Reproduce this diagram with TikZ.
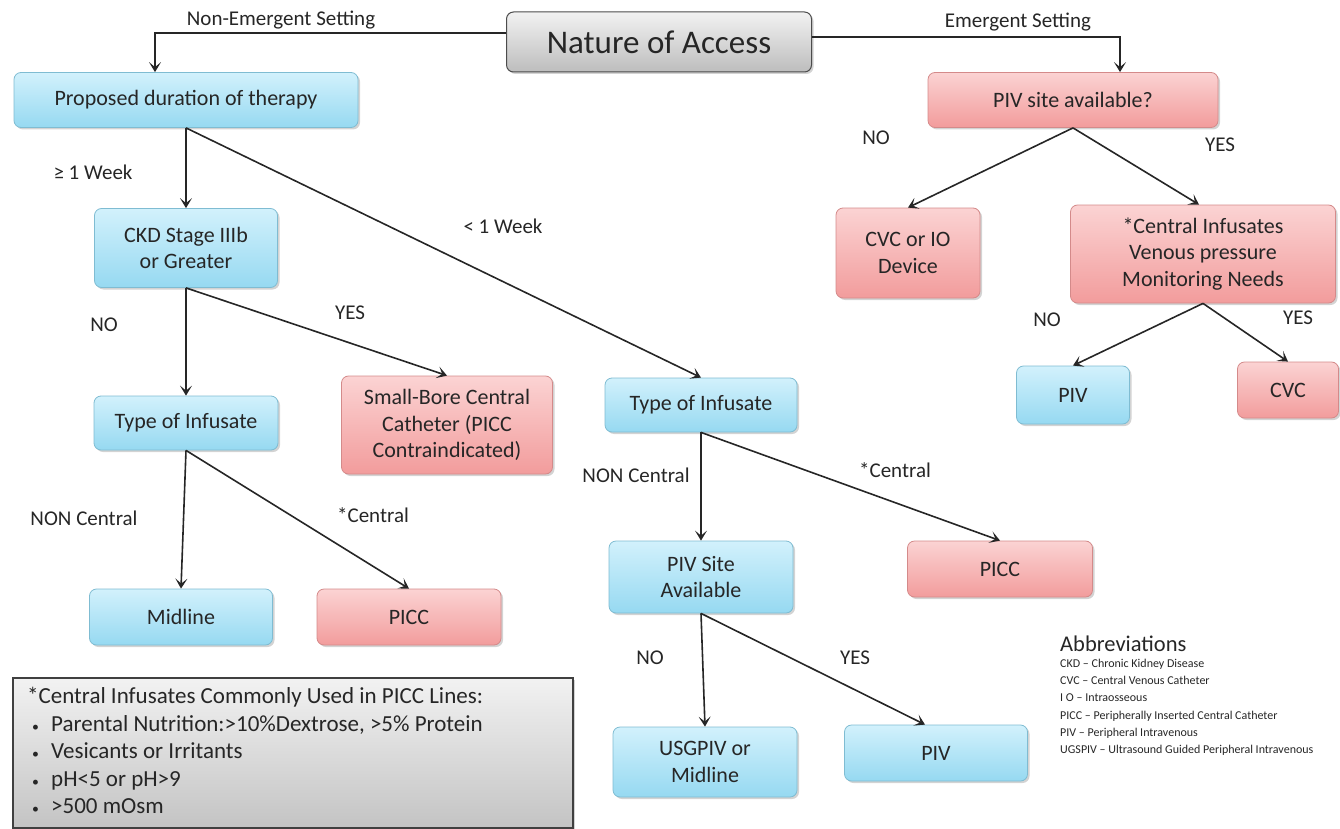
\documentclass[tikz,border=0pt]{standalone}
\usepackage{fontspec}
\setmainfont{Carlito}
\usetikzlibrary{arrows.meta,shadows}
\definecolor{bluetop}{HTML}{D2F1FC}
\definecolor{bluebot}{HTML}{96D9F1}
\definecolor{blueedge}{HTML}{7FBCD2}
\definecolor{redtop}{HTML}{FBD3D3}
\definecolor{redbot}{HTML}{F29C9C}
\definecolor{rededge}{HTML}{D48A8A}
\definecolor{graytop}{HTML}{F2F2F2}
\definecolor{graybot}{HTML}{BDBDBD}
\definecolor{txt}{HTML}{262626}
\newcommand{\mybul}{\makebox[18pt][l]{\hspace{5pt}\scalebox{0.6}{\textbullet}}\hspace{6pt}}
\tikzset{
  box/.style={rounded corners=7pt, align=center, inner sep=2pt, text=txt,
    font=\fontsize{22}{26.5}\selectfont,
    drop shadow={opacity=0.35, shadow xshift=2pt, shadow yshift=-2pt}},
  bluebox/.style={box, draw=blueedge, line width=0.8pt, top color=bluetop, bottom color=bluebot},
  redbox/.style={box, draw=rededge, line width=0.8pt, top color=redtop, bottom color=redbot},
  graybox/.style={box, draw=black!70, line width=1pt, top color=graytop, bottom color=graybot},
  conn/.style={line width=1.6pt, draw=black!85, -{Stealth[length=10pt,width=12pt,inset=5pt]}},
  lab/.style={font=\fontsize{21}{24}\selectfont, text=txt},
}
\begin{document}
\begin{tikzpicture}[x=1pt,y=-1pt]
\useasboundingbox (0,0) rectangle (1340,829);
% nodes
\node[graybox, minimum width=305pt, minimum height=60pt, font=\fontsize{33}{36}\selectfont] (nat) at (659,42) {Nature of Access};
\node[bluebox, minimum width=344pt, minimum height=55pt] (dur) at (186,100) {Proposed duration of therapy};
\node[redbox, minimum width=290pt, minimum height=55pt] (pivq) at (1073,100) {PIV site available?};
\node[bluebox, minimum width=183pt, minimum height=79pt] (ckd) at (186,248) {CKD Stage IIIb\\or Greater};
\node[redbox, minimum width=144pt, minimum height=90pt] (cvcio) at (908,253) {CVC or IO\\Device};
\node[redbox, minimum width=265pt, minimum height=98pt] (ci) at (1203,254) {*Central Infusates\\Venous pressure\\Monitoring Needs};
\node[bluebox, minimum width=184pt, minimum height=54pt] (tl) at (186,423) {Type of Infusate};
\node[redbox, minimum width=211pt, minimum height=98pt] (sb) at (447,425) {Small-Bore Central\\Catheter (PICC\\Contraindicated)};
\node[bluebox, minimum width=192pt, minimum height=54pt] (tm) at (701,405) {Type of Infusate};
\node[bluebox, minimum width=113pt, minimum height=58pt] (piv1) at (1073,395) {PIV};
\node[redbox, minimum width=101pt, minimum height=56pt] (cvc) at (1288,390) {CVC};
\node[bluebox, minimum width=183pt, minimum height=56pt] (mid) at (181,617) {Midline};
\node[redbox, minimum width=184pt, minimum height=56pt] (picc1) at (409,617) {PICC};
\node[bluebox, minimum width=184pt, minimum height=72pt] (pivs) at (701,577) {PIV Site\\Available};
\node[redbox, minimum width=185pt, minimum height=56pt] (picc2) at (1000,569) {PICC};
\node[bluebox, minimum width=184pt, minimum height=70pt] (usg) at (705,762) {USGPIV or\\Midline};
\node[bluebox, minimum width=183pt, minimum height=56pt] (piv2) at (936,753) {PIV};
% gray info box
\node[draw=black!75, line width=1.2pt, top color=graytop, bottom color=graybot!90,
  drop shadow={opacity=0.35, shadow xshift=2pt, shadow yshift=-2pt},
  minimum width=560pt, minimum height=150pt, inner sep=0pt] (info) at (293,753) {};
\node[anchor=north west, align=left, text=txt, font=\fontsize{23}{27.5}\selectfont, inner sep=0pt] (infotxt) at (27,687) {*Central Infusates Commonly Used in PICC Lines:\\
\mybul Parental Nutrition:{>}10\%Dextrose, {>}5\% Protein\\
\mybul Vesicants or Irritants\\
\mybul pH{<}5 or pH{>}9\\
\mybul {>}500 mOsm};
% abbreviations
\node[anchor=north west, text=txt, font=\fontsize{22.5}{24}\selectfont, inner sep=0pt] (abbr) at (1060,636) {Abbreviations};
\node[anchor=north west, align=left, text=txt, font=\fontsize{12}{17.2}\selectfont, inner sep=0pt] (abbrtxt) at (1060,659) {CKD – Chronic Kidney Disease\\
CVC – Central Venous Catheter\\
I O – Intraosseous\\
PICC – Peripherally Inserted Central Catheter\\
PIV – Peripheral Intravenous\\
UGSPIV – Ultrasound Guided Peripheral Intravenous};
% connectors
\coordinate (c1) at (155,33);
\coordinate (c2) at (1120,37);
\draw[conn] (nat.west |- c1) -- (c1) -- (dur.north -| c1);
\draw[conn] (nat.east |- c2) -- (c2) -- (pivq.north -| c2);
\node[lab] (l1) at (281,20) {Non-Emergent Setting};
\node[lab] (l2) at (1018,22) {Emergent Setting};
\draw[conn] (dur.south) -- (ckd.north);
\draw[conn] (dur.south) -- (tm.north);
\node[lab] (l3) at (93,172) {≥ 1 Week};
\node[lab] (l4) at (503,226) {< 1 Week};
\draw[conn] (ckd.south) -- (tl.north);
\draw[conn] (ckd.south) -- (sb.north);
\node[lab] (l5) at (104,325) {NO};
\node[lab] (l6) at (350,313) {YES};
\draw[conn] (tl.south) -- (mid.north);
\draw[conn] (tl.south) -- (picc1.north);
\node[lab] (l7) at (84,518) {NON Central};
\node[lab] (l8) at (373,515) {*Central};
\draw[conn] (tm.south) -- (pivs.north);
\draw[conn] (tm.south) -- (picc2.north);
\node[lab] (l9) at (636,475) {NON Central};
\node[lab] (l10) at (895,470) {*Central};
\draw[conn] (pivs.south) -- (usg.north);
\draw[conn] (pivs.south) -- ([xshift=-11pt]piv2.north);
\node[lab] (l11) at (650,658) {NO};
\node[lab] (l12) at (855,658) {YES};
\draw[conn] (pivq.south) -- (cvcio.north);
\draw[conn] (pivq.south) -- ([xshift=-4pt]ci.north);
\node[lab] (l13) at (876,138) {NO};
\node[lab] (l14) at (1220,145) {YES};
\draw[conn] (ci.south) -- (piv1.north);
\draw[conn] (ci.south) -- (cvc.north);
\node[lab] (l15) at (1047,320) {NO};
\node[lab] (l16) at (1298,318) {YES};
\end{tikzpicture}
\end{document}
